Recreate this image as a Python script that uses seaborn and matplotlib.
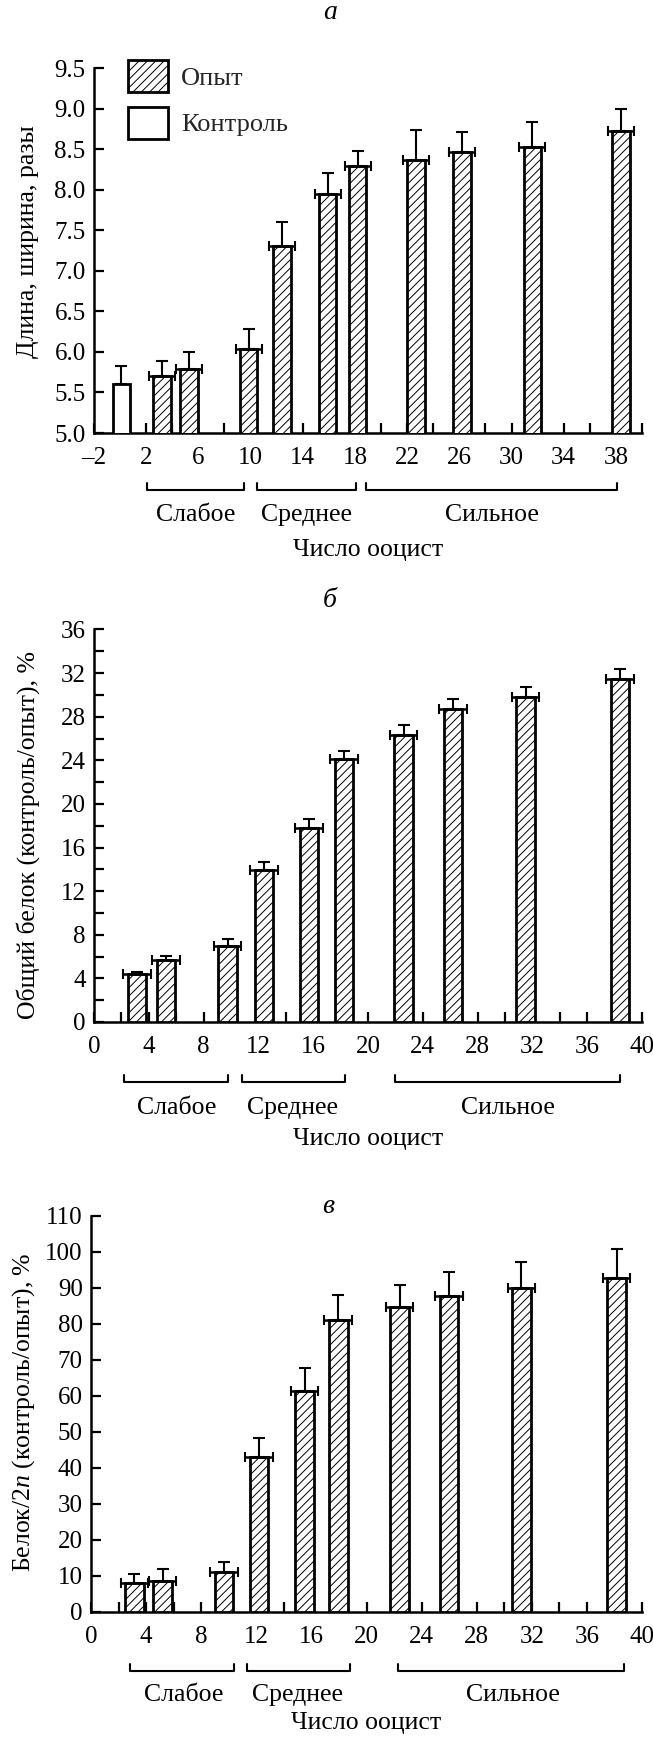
import numpy as np
import pandas as pd
import seaborn as sns
import matplotlib.pyplot as plt
from matplotlib.patches import Patch
from matplotlib.ticker import MultipleLocator, FixedLocator

sns.set_theme(style="ticks")
plt.rcParams['font.family'] = ['Liberation Serif', 'DejaVu Serif']
plt.rcParams['mathtext.fontset'] = 'custom'
plt.rcParams['mathtext.rm'] = 'Liberation Serif'
plt.rcParams['mathtext.it'] = 'Liberation Serif:italic'
plt.rcParams['hatch.linewidth'] = 0.7

# --- panel а: length/width ---
ctrl_x = [0.1]
ctrl_len = [5.60]
ctrl_err = [0.23]
a_x = [3.2, 5.3, 9.85, 12.4, 15.9, 18.2, 22.7, 26.2, 31.6, 38.4]
a_val = [5.70, 5.79, 6.03, 7.30, 7.95, 8.29, 8.37, 8.47, 8.53, 8.72]
a_err = [0.19, 0.21, 0.25, 0.30, 0.26, 0.19, 0.37, 0.24, 0.31, 0.28]

# --- panel б: total protein ---
b_x = [3.15, 5.25, 9.75, 12.4, 15.7, 18.25, 22.6, 26.2, 31.5, 38.4]
b_val = [4.4, 5.7, 7.0, 13.9, 17.8, 24.1, 26.3, 28.7, 29.8, 31.5]
b_err = [0.2, 0.35, 0.6, 0.8, 0.8, 0.8, 0.9, 0.9, 0.9, 0.9]

# --- panel в: protein/2n ---
c_x = [3.15, 5.2, 9.65, 12.2, 15.5, 17.95, 22.4, 26.0, 31.25, 38.15]
c_val = [8.0, 8.5, 11.0, 43.0, 61.5, 81.0, 84.8, 87.8, 90.0, 92.8]
c_err = [2.6, 3.5, 3.0, 5.3, 6.4, 7.0, 6.0, 6.6, 7.2, 7.9]

groups = ['Слабое', 'Среднее', 'Сильное']
a_spans = [(2.05, 9.5), (10.5, 18.05), (18.85, 38.1)]
a_lab_x = [5.8, 14.3, 28.5]
b_spans = [(2.2, 9.76), (10.8, 18.3), (22.0, 38.4)]
b_lab_x = [6.0, 14.5, 30.2]
c_spans = [(2.85, 10.4), (11.3, 18.8), (22.3, 38.7)]
c_lab_x = [6.7, 15.0, 30.6]

BAR_W = 1.35
LW = 2.0
TICK_FS = 18
TEXT_FS = 18.5

fig = plt.figure(figsize=(6.53, 17.39), dpi=100)
ax_a = fig.add_axes([94/653, 1 - 433/1739, 548/653, 365/1739])
ax_b = fig.add_axes([94/653, 1 - 1022/1739, 548/653, 392.5/1739])
ax_c = fig.add_axes([91/653, 1 - 1612/1739, 551/653, 396/1739])


def bars(ax, x, vals, hatch):
    df = pd.DataFrame({'x': x, 'y': vals})
    xs = np.sort(np.unique(x))
    unit = np.min(np.diff(xs)) if len(xs) > 1 else 1.0
    sns.barplot(data=df, x='x', y='y', native_scale=True, orient='x',
                width=BAR_W / unit, color='white', saturation=1,
                edgecolor='black', linewidth=LW, hatch=hatch,
                errorbar=None, ax=ax, zorder=3)


def errs(ax, x, vals, err, xerr=True):
    n = len(x)
    ax.errorbar(x, vals, yerr=[np.zeros(n), err], fmt='none', ecolor='black',
                elinewidth=1.5, capsize=4, capthick=1.5, zorder=4)
    if xerr:
        ax.errorbar(x, vals, xerr=1.0, fmt='none', ecolor='black',
                    elinewidth=1.8, capsize=3.5, capthick=1.5, zorder=4)


def style(ax, xlim, xlabels, ylim, ymajor, yminor, fmt, ylabel,
          spans, lab_x, ys, ylab_pos):
    ax.set_xlim(*xlim)
    ax.set_ylim(*ylim)
    ax.xaxis.set_major_locator(FixedLocator(xlabels))
    ax.xaxis.set_minor_locator(MultipleLocator(2))
    ax.set_xticklabels([str(v).replace('-', '\u2013') for v in xlabels])
    ax.yaxis.set_major_locator(MultipleLocator(ymajor))
    if yminor:
        ax.yaxis.set_minor_locator(MultipleLocator(yminor))
    ax.yaxis.set_major_formatter(fmt)
    for s in ['top', 'right']:
        ax.spines[s].set_visible(False)
    for s in ['left', 'bottom']:
        ax.spines[s].set_linewidth(1.8)
        ax.spines[s].set_color('black')
    ax.tick_params(which='both', direction='in', length=7, width=1.6,
                   color='black', labelsize=TICK_FS, labelcolor='black')
    ax.tick_params(axis='x', which='both', pad=10)
    ax.tick_params(axis='y', which='both', pad=6)
    ax.set_xlabel('Число ооцист', fontsize=TEXT_FS, color='black')
    ax.xaxis.label.set_va('center')
    ax.xaxis.set_label_coords(0.5, ys[2])
    ax.set_ylabel(ylabel, fontsize=TEXT_FS, color='black')
    ax.yaxis.label.set_va('center')
    ax.yaxis.label.set_ha('center')
    ax.yaxis.set_label_coords(ylab_pos[0], ylab_pos[1])
    tr = ax.get_xaxis_transform()
    yb, h = ys[0], ys[3]
    for (x0, x1), lx, name in zip(spans, lab_x, groups):
        ax.plot([x0, x0, x1, x1], [yb + h, yb, yb, yb + h], transform=tr,
                clip_on=False, color='black', lw=1.5)
        ax.text(lx, ys[1], name, transform=tr, ha='center', va='center',
                fontsize=TEXT_FS, color='black')


# panel а
bars(ax_a, ctrl_x, ctrl_len, None)
bars(ax_a, a_x, a_val, '////')
errs(ax_a, ctrl_x, ctrl_len, ctrl_err, xerr=False)
errs(ax_a, a_x, a_val, a_err)
style(ax_a, (-2, 40), list(range(-2, 39, 4)), (5, 9.5), 0.5, None, '{x:.1f}',
      'Длина, ширина, разы', a_spans, a_lab_x,
      (-0.156, -0.225, -0.32, 0.019), (-0.12, 0.525))
handles = [Patch(facecolor='white', edgecolor='black', hatch='////', linewidth=LW),
           Patch(facecolor='white', edgecolor='black', linewidth=LW)]
ax_a.legend(handles, ['Опыт', 'Контроль'], loc='upper left',
            bbox_to_anchor=(0.062, 1.022), frameon=False, fontsize=19,
            handlelength=1.5, handleheight=1.5, labelspacing=0.55,
            handletextpad=0.5, borderpad=0, borderaxespad=0)

# panel б
bars(ax_b, b_x, b_val, '////')
errs(ax_b, b_x, b_val, b_err)
style(ax_b, (0, 40), list(range(0, 41, 4)), (0, 36), 4, 2, '{x:.0f}',
      'Общий белок (контроль/опыт), %', b_spans, b_lab_x,
      (-0.153, -0.218, -0.298, 0.018), (-0.12, 0.476))

# panel в
bars(ax_c, c_x, c_val, '////')
errs(ax_c, c_x, c_val, c_err)
style(ax_c, (0, 40), list(range(0, 41, 4)), (0, 110), 10, None, '{x:.0f}',
      'Белок/2$\\mathit{n}$ (контроль/опыт), %', c_spans, c_lab_x,
      (-0.149, -0.21, -0.28, 0.018), (-0.123, 0.505))

for txt, ax, y in [('а', ax_a, 1.151), ('б', ax_b, 1.073), ('в', ax_c, 1.025)]:
    ax.text(0.43, y, txt, transform=ax.transAxes, ha='center', va='center',
            fontsize=20, fontstyle='italic', color='black')

fig.savefig('out.png', dpi=100)
